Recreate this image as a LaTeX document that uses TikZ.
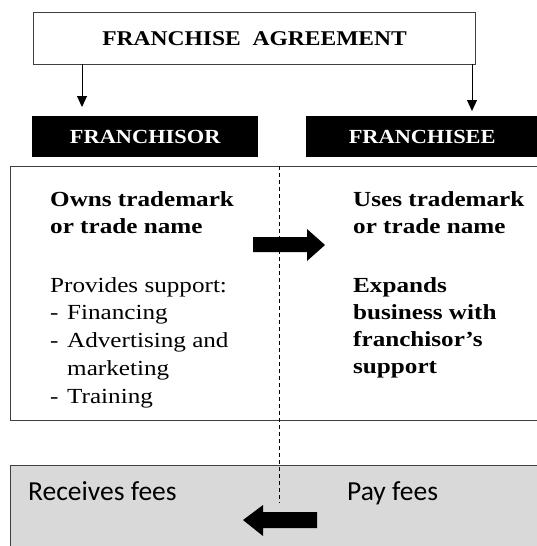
\documentclass[tikz,border=0pt]{standalone}
\usepackage{fontspec}
\setmainfont{Liberation Serif}
\newfontfamily\bodyfont[FakeStretch=1.17]{Liberation Serif}
\newfontfamily\capsfont[FakeStretch=1.12]{Liberation Serif}
\newfontfamily\feefont{Carlito}
\usetikzlibrary{arrows.meta}
\definecolor{framegray}{HTML}{3F3F3F}
\definecolor{feegray}{HTML}{D9D9D9}
\newcommand{\dashitem}[1]{\makebox[17pt][l]{-}#1}

\begin{document}
\begin{tikzpicture}[x=1pt, y=-1pt,
    titlebox/.style={draw=framegray, line width=1.2pt, inner sep=0pt, anchor=north west,
      font=\capsfont\bfseries\fontsize{21}{25}\selectfont},
    partybox/.style={fill=black, text=white, inner sep=0pt, anchor=north west,
      minimum height=41pt, font=\capsfont\bfseries\fontsize{20}{24}\selectfont},
    framebox/.style={draw=framegray, line width=1.4pt, inner sep=0pt, anchor=north west},
    boldtext/.style={anchor=base west, align=left, inner sep=0pt,
      font=\bodyfont\bfseries\fontsize{21.5}{27}\selectfont},
    plaintext/.style={anchor=base west, align=left, inner sep=0pt,
      font=\bodyfont\fontsize{21.5}{27.7}\selectfont},
    feetext/.style={anchor=base west, inner sep=0pt, font=\feefont\fontsize{27.5}{30}\selectfont},
    thinarrow/.style={line width=1pt, -{Triangle[length=11pt, width=10pt]}},
    divider/.style={dashed, line width=0.9pt, dash pattern=on 4pt off 3pt}
  ]
    \useasboundingbox (0,0) rectangle (536,546);
    %%%%% START %%%%%

    % agreement and the two parties
    \node[titlebox, minimum width=442pt, minimum height=52pt] (agreement) at (33,12) {FRANCHISE~~AGREEMENT};
    \node[partybox, minimum width=226pt] (franchisor) at (32,116) {FRANCHISOR};
    \node[partybox, minimum width=232pt] (franchisee) at (306,116) {FRANCHISEE};

    \coordinate (lefttop) at (82,64);
    \coordinate (righttop) at (472,64);
    \draw[thinarrow, shorten >=9pt] (lefttop) -- (lefttop |- franchisor.north);
    \draw[thinarrow, shorten >=5pt] (righttop) -- (righttop |- franchisee.north);

    % what each side does
    \node[framebox, minimum width=532pt, minimum height=254pt] (rolebox) at (10,166) {};
    \node[framebox, fill=feegray, minimum width=532pt, minimum height=90pt] (feebox) at (10,465) {};

    \coordinate (divtop) at (279,166);
    \coordinate (divbot) at (279,503);
    \draw[divider] (divtop) -- (divbot);

    % base of a multi-line node = its last line
    \node[boldtext] (owns) at (50,233) {Owns trademark\\or trade name};
    \node[plaintext] (support) at (50,403) {Provides support:\\\dashitem{Financing}\\\dashitem{Advertising and}\\\hspace*{17pt}marketing\\\dashitem{Training}};
    \node[boldtext] (uses) at (353,233) {Uses trademark\\or trade name};
    \node[boldtext] (expands) at (353,373) {Expands\\business with\\franchisor’s\\support};

    \fill (253,237) -- (307,237) -- (307,229) -- (325,245) -- (307,261) -- (307,252) -- (253,252) -- cycle;

    % fees
    \node[feetext] (receives) at (28,500) {Receives fees};
    \node[feetext] (pays) at (347,500) {Pay fees};

    \fill (317,512) -- (263,512) -- (263,505) -- (243,520) -- (263,536) -- (263,528) -- (317,528) -- cycle;

    %%%%% END %%%%%
\end{tikzpicture}
\end{document}
